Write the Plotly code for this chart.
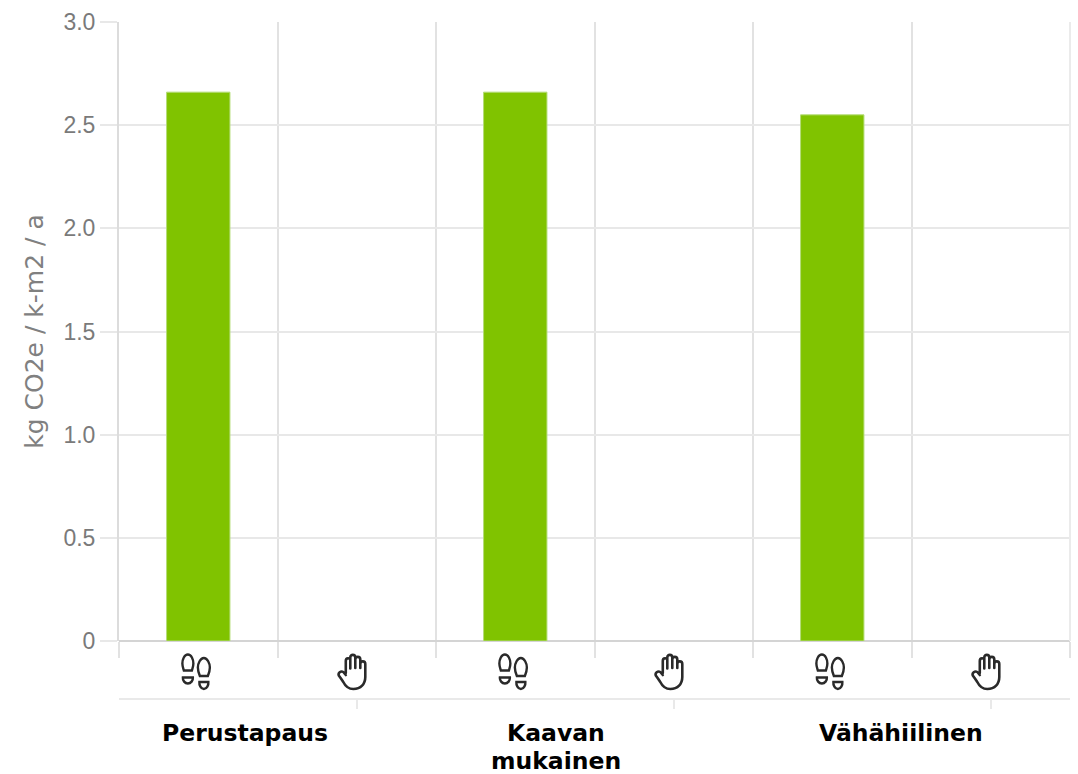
import base64
import plotly.graph_objects as go

categories = ["Perustapaus askel", "Perustapaus käsi", "Kaavan askel", "Kaavan käsi", "Vähähiilinen askel", "Vähähiilinen käsi"]
values = [2.66, None, 2.66, None, 2.55, None]
y_ticks = [0, 0.5, 1.0, 1.5, 2.0, 2.5, 3.0]
y_labels = ["0", "0.5", "1.0", "1.5", "2.0", "2.5", "3.0"]
group_ticks = [1, 3, 5]
group_labels = ["Perustapaus", "Kaavan", "mukainen", "Vähähiilinen"]
group_centers = [245, 556, 556, 901]
group_tops = [717, 717, 745, 717]

FEET = """<svg xmlns="http://www.w3.org/2000/svg" viewBox="0 0 32 38">
<g fill="none" stroke="#2a2a2a" stroke-width="2.4">
<path d="M8 1.500c3.500 0 5.500 5 5.500 9 0 3-1 5-1.500 7H4c-.5-2-1.500-4-1.500-7 0-4 2-9 5.500-9z"/>
<path d="M3 24.500h10c.3 3-2 6-5 6s-5.300-3-5-6z"/>
<path d="M24 5c3.500 0 6 5.500 6 9.500 0 3-1 6-2 8.500h-8c-1-2.500-2-5.500-2-8.500C18 10.500 20.500 5 24 5z"/>
<path d="M19.500 29h9c.3 3-1.500 7-4.500 7s-4.800-4-4.500-7z"/>
</g></svg>"""

HAND = """<svg xmlns="http://www.w3.org/2000/svg" viewBox="0 0 32 38">
<g fill="none" stroke="#2a2a2a" stroke-width="2.600" stroke-linecap="round" stroke-linejoin="round">
<path d="M9 20V8c0-3.500 4.500-3.500 4.500-.5v8M13.500 15V4.500c0-3.500 5-3.500 5 0V15M18.500 15V6.500c0-3.500 5-3.500 5 0V15M23.500 15V11c0-3.500 5-3.500 5 0v13c0 7-4.500 12-12 12-5 0-8-3-10-7l-2-3-2.500-3.500c-1-2.500 2-5 4.500-3.500L9 22"/>
</g></svg>"""


def svg_uri(svg):
    return "data:image/svg+xml;base64," + base64.b64encode(svg.encode()).decode()


fig = go.Figure()
fig.add_trace(go.Bar(
    x=categories,
    y=values,
    width=0.4,
    marker=dict(color="#80c300", line=dict(color="#b4dc78", width=1)),
    showlegend=False,
))
# empty trace so the lower grouping axis gets drawn
fig.add_trace(go.Scatter(x=[None], y=[None], xaxis="x2", showlegend=False))

# page is 774 high: plot top at 22, zero line at 641, group axis at 699
top, zero, bottom, left, right = 22, 641, 699, 119, 1070

images = []
for i, cat in enumerate(categories):
    images.append(dict(
        source=svg_uri(FEET if i % 2 == 0 else HAND),
        xref="x", yref="paper",
        x=i - (0.015 if i % 2 == 0 else 0.025), y=(bottom - 672) / (bottom - top),
        sizex=38 / 158.5, sizey=38 / (bottom - top),
        xanchor="center", yanchor="middle", sizing="contain", layer="above",
    ))

annotations = [
    dict(
        text="<b>%s</b>" % label,
        xref="paper", yref="paper",
        x=(c - left) / (right - left), y=(bottom - t) / (bottom - top),
        xanchor="center", yanchor="top", showarrow=False, align="center",
        font=dict(family="DejaVu Sans", size=23.5, color="#000000"),
    )
    for label, c, t in zip(group_labels, group_centers, group_tops)
]

fig.update_layout(
    width=1078,
    height=774,
    margin=dict(l=left, r=1078 - right, t=top, b=774 - bottom, pad=0),
    paper_bgcolor="white",
    plot_bgcolor="white",
    bargap=0.6,
    images=images,
    annotations=annotations,
    shapes=[dict(
        type="line", xref="paper", yref="y",
        x0=1, x1=1, y0=0, y1=3,
        line=dict(color="#ebebeb", width=2),
    )],
    xaxis=dict(
        type="category",
        categoryorder="array",
        categoryarray=categories,
        range=[-0.5, 5.5],
        tickson="boundaries",
        showticklabels=False,
        showgrid=True,
        gridcolor="#e2e2e2",
        gridwidth=2,
        ticks="outside",
        ticklen=16,
        tickwidth=2,
        tickcolor="#e2e2e2",
        zeroline=False,
        showline=False,
        anchor="y",
    ),
    xaxis2=dict(
        overlaying="x",
        anchor="free",
        position=0,
        side="bottom",
        range=[-0.5, 5.5],
        tickmode="array",
        tickvals=group_ticks,
        ticktext=["", "", ""],
        ticks="outside",
        ticklen=9,
        tickwidth=2,
        tickcolor="#e9e9e9",
        showgrid=False,
        zeroline=False,
        showline=True,
        linecolor="#e9e9e9",
        linewidth=2,
    ),
    yaxis=dict(
        domain=[(bottom - zero) / (bottom - top), 1],
        range=[0, 3],
        tickmode="array",
        tickvals=y_ticks,
        ticktext=y_labels,
        ticks="outside",
        ticklen=17,
        tickwidth=2,
        tickcolor="#e8e8e8",
        gridcolor="#e8e8e8",
        gridwidth=2,
        zeroline=True,
        zerolinecolor="#d4d4d4",
        zerolinewidth=2,
        showline=True,
        linecolor="#dcdcdc",
        linewidth=2,
        tickfont=dict(family="Liberation Sans", size=23, color="#7a7a7a"),
        title=dict(
            text="kg CO2e / k-m2 / a",
            font=dict(family="DejaVu Sans", size=25, color="#808080"),
            standoff=13,
        ),
    ),
)

fig.write_html("out.html", config=dict(displayModeBar=False), post_script="document.body.style.margin='0';")
